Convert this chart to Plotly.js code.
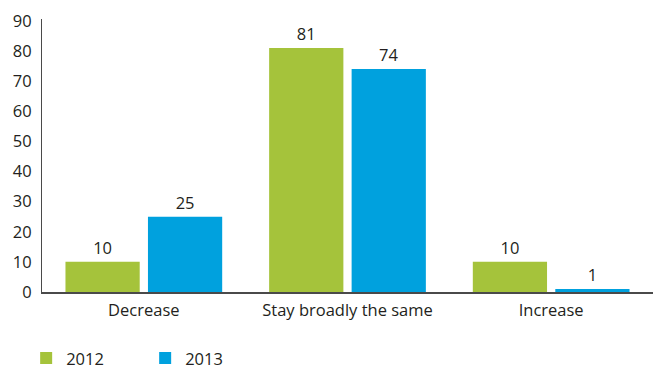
<!DOCTYPE html>
<html><head><meta charset="utf-8">
<script src="https://cdn.plot.ly/plotly-3.0.1.min.js"></script>
<style>html,body{margin:0;padding:0;background:#fff}#c{width:654px;height:369px}</style>
</head><body><div id="c"></div>
<script>
const categories = ["Decrease", "Stay broadly the same", "Increase"];
const values2012 = [10, 81, 10];
const values2013 = [25, 74, 1];
const seriesNames = ["2012", "2013"];
const yTicks = [0, 10, 20, 30, 40, 50, 60, 70, 80, 90];

const font = {family: "Open Sans, Noto Sans, sans-serif", size: 16.5, color: "#231f20"};
const mk = (name, vals, color) => ({
  type: "bar", name: name, x: categories, y: vals,
  marker: {color: color},
  text: vals.map(String), textposition: "outside",
  textfont: font, cliponaxis: false, hoverinfo: "none"
});
const data = [mk(seriesNames[0], values2012, "#a5c33b"), mk(seriesNames[1], values2013, "#00a1de")];
const layout = {
  width: 654, height: 369,
  margin: {l: 42, r: 1, t: 19, b: 77, autoexpand: false},
  paper_bgcolor: "#fff", plot_bgcolor: "#fff",
  font: font,
  barmode: "group", bargap: 0.19, bargroupgap: 0.1,
  xaxis: {showline: true, linecolor: "#4a4a4a", linewidth: 2, ticks: "", tickfont: font,
          showgrid: false, zeroline: false, ticklabelstandoff: 2},
  yaxis: {range: [0, 90.6], tickvals: yTicks, showline: true, linecolor: "#4a4a4a", linewidth: 1,
          ticks: "", showgrid: false, zeroline: false, tickfont: font, ticklabelstandoff: 6},
  showlegend: true,
  legend: {orientation: "h", xref: "container", x: 0.04, xanchor: "left",
           yref: "paper", y: -0.243, yanchor: "middle",
           font: font, itemwidth: 30, tracegroupgap: 0, entrywidth: 74},
};
Plotly.newPlot("c", data, layout, {displayModeBar: false, staticPlot: true});
</script></body></html>
